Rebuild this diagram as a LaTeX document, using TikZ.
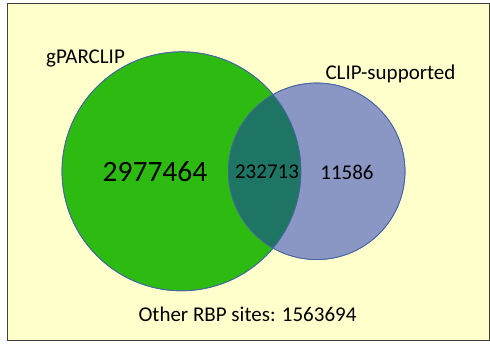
\documentclass[tikz,border=0pt]{standalone}
\usepackage{fontspec}
\setmainfont{Carlito}
\usepackage{tikz}
\usetikzlibrary{positioning}
\definecolor{paleYellow}{RGB}{255,255,204}
\definecolor{frameGray}{RGB}{64,64,64}
\definecolor{gparGreen}{RGB}{45,187,18}
\definecolor{clipBlue}{RGB}{138,151,196}
\definecolor{bothTeal}{RGB}{31,117,99}
\definecolor{rimBlue}{RGB}{70,100,165}
\tikzset{
		frameStyle/.style = {draw=frameGray, line width=1pt, fill=paleYellow},
		setStyle/.style =   {circle, draw=rimBlue, line width=0.7pt, inner sep=0pt},
		lbl/.style =        {anchor=base, inner sep=0pt, font=\fontsize{21}{25}\selectfont},
		bigLbl/.style =     {anchor=base, inner sep=0pt, font=\fontsize{29.5}{34}\selectfont}
}

\begin{document}
\begin{tikzpicture}[x=1pt, y=-1pt]
  \useasboundingbox (0,0) rectangle (490,343);

  % Draw background frame
  \draw [frameStyle] (7.5,3.5) rectangle (489,340);

  % Draw the two sets
  \node [setStyle, fill=gparGreen, minimum size=239pt] (gpar) at (181.5,171.3) {};
  \node [setStyle, fill=clipBlue, minimum size=176.6pt] (clip) at (316.7,171.3) {};

  % Draw the overlap
  \begin{scope}
    \clip (gpar.center) circle (119.5);
    \fill [bothTeal] (clip.center) circle (88.3);
  \end{scope}
  \draw [rimBlue, line width=0.7pt] (gpar.center) circle (119.5);
  \draw [rimBlue, line width=0.7pt] (clip.center) circle (88.3);

  % Draw set names and counts
  \node [lbl] (gparName) at (85.5,63.3) {gPARCLIP};
  \node [lbl] (clipName) at (390.5,79) {CLIP-supported};
  \node [bigLbl] (onlyGpar) at (155,181.7) {2977464};
  \node [lbl] (both) at (267,178.3) {232713};
  \node [lbl] (onlyClip) at (347,179) {11586};
  \node [lbl] (other) at (247.5,321.7) {Other RBP sites: 1563694};

\end{tikzpicture}
\end{document}
